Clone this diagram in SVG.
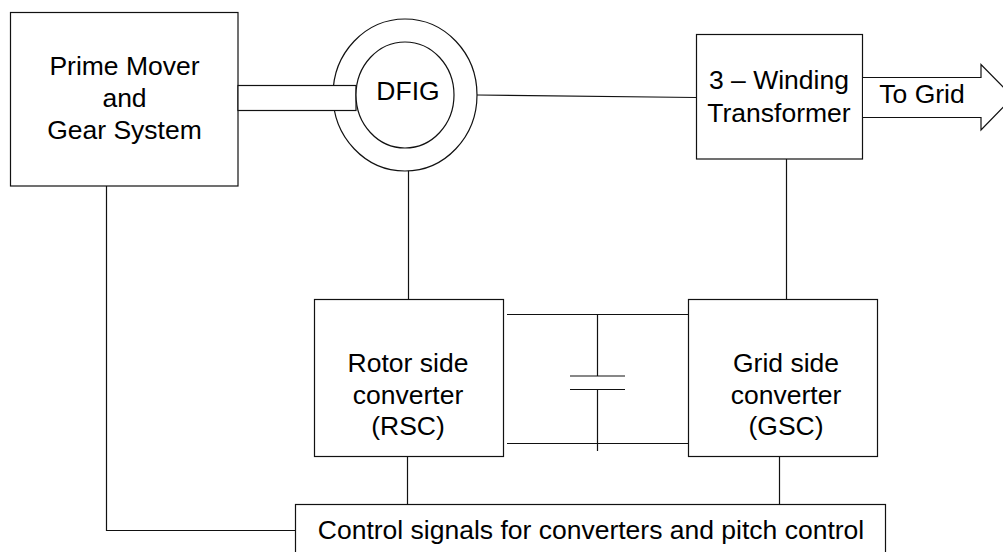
<svg xmlns="http://www.w3.org/2000/svg" width="1003" height="552" viewBox="0 0 1003 552">
<style>
.s{fill:#fff;stroke:#111;stroke-width:1.200}
.l{fill:none;stroke:#111;stroke-width:1.200}
text{font-family:"Liberation Sans",Arial,sans-serif;font-size:26.500px;fill:#000;text-anchor:middle}
</style>
<rect width="1003" height="552" fill="#fff"/>
<g id="connectors">
<path class="l" d="M106.500 186V530.500H295"/>
<path class="l" d="M477 95L696 97.500"/>
<path class="l" d="M408.500 148V299"/>
<path class="l" d="M786.500 159V299"/>
<path class="l" d="M407.500 457V504"/>
<path class="l" d="M779.500 457V504"/>
<path class="l" d="M507 314.500H688M507 443.500H688"/>
<path class="l" d="M597.500 314.500V376M597.500 389.500V451"/>
<path class="l" d="M570 376H625M570 389.500H625"/>
</g>
<g id="prime-mover">
<rect class="s" x="10.500" y="12.500" width="227.500" height="173.500"/>
<text x="124.500" y="75">Prime Mover</text>
<text x="124.500" y="107">and</text>
<text x="124.500" y="139">Gear System</text>
</g>
<g id="dfig">
<ellipse class="s" cx="405" cy="95" rx="72" ry="76"/>
<rect id="shaft" class="s" x="238" y="85.500" width="118" height="25"/>
<ellipse class="s" cx="405" cy="95" rx="49" ry="53"/>
<text x="408" y="99.500">DFIG</text>
</g>
<g id="transformer">
<rect class="s" x="696.500" y="34.500" width="166" height="124.500"/>
<text x="779" y="89">3 – Winding</text>
<text x="779" y="122">Transformer</text>
</g>
<g id="to-grid">
<path class="s" d="M863 77.500H981V64.500L1013 97L981 130V117.500H863"/>
<text x="922" y="103">To Grid</text>
</g>
<g id="rsc">
<rect class="s" x="314.500" y="299.500" width="189" height="157"/>
<text x="408" y="372">Rotor side</text>
<text x="408" y="403.500">converter</text>
<text x="408" y="435">(RSC)</text>
</g>
<g id="gsc">
<rect class="s" x="688.500" y="299.500" width="189" height="157"/>
<text x="786" y="372">Grid side</text>
<text x="786" y="403.500">converter</text>
<text x="786" y="435">(GSC)</text>
</g>
<g id="control">
<rect class="s" x="295.500" y="504.500" width="590" height="60"/>
<text x="591" y="539">Control signals for converters and pitch control</text>
</g>
</svg>
